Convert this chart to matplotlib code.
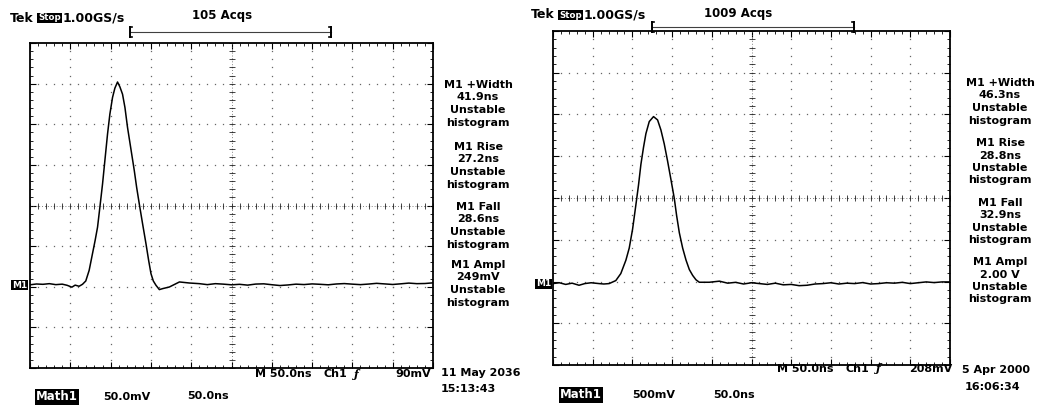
import numpy as np
import matplotlib.pyplot as plt
from matplotlib.lines import Line2D

W, H = 1039, 409

# Math1 trace, left capture (ns, mV above the M1 reference level)
LEFT_T_NS = [0, 8, 16, 24, 32, 40, 46, 52, 56, 60.9, 65.1, 69.2, 73.4, 77.5,
             80.8, 83.8, 86.7, 90.0, 93.3, 96.2, 99.1, 102.4, 105.3, 108.6,
             111.5, 114.8, 117.8, 121.0, 125.2, 129.4, 132.3, 135.6, 139.7,
             143.9, 147.2, 150.1, 153.0, 156.3, 160.5, 164.6, 172.9, 185.4,
             197.8, 210.2, 220, 230, 240, 250, 260, 270, 280, 290, 300, 310,
             320, 330, 340, 350, 360, 370, 380, 390, 400, 410, 420, 430, 440,
             450, 460, 470, 480, 490, 500]
LEFT_MV = [-0.6, 0.4, 0.0, 0.8, -0.4, 0.2, -1.2, -3.5, -1.0, -2.4, 0.0, 4.1,
           17.2, 37.6, 54.0, 70.3, 94.9, 123.5, 156.3, 185.0, 209.5, 230.0,
           241.4, 249.0, 243.1, 234.0, 217.6, 193.1, 166.5, 139.9, 119.4,
           98.9, 74.4, 49.9, 29.4, 13.1, 4.1, -1.2, -6.5, -5.3, -3.3, 2.9,
           1.6, 0.8, -0.4, 0.8, 0.2, -0.6, 0.0, -1.0, 0.3, 0.6, -0.5, -1.5,
           -0.8, 0.2, -0.3, 0.5, 0.0, -0.6, 0.4, 0.9, 0.2, -0.4, 0.3, 1.2,
           0.5, -0.2, 0.6, 1.5, 0.8, 1.0, 1.8]

# Math1 trace, right capture (ns, V above the M1 reference level)
RIGHT_T_NS = [0, 8, 16, 24, 32.8, 40, 48, 58.1, 64, 70.7, 79.1, 85.4, 91.8,
              96.0, 100.2, 104.3, 107.7, 110.7, 114.0, 117.0, 121.2, 126.6,
              131.7, 135.9, 140.1, 144.3, 148.6, 152.8, 155.7, 159.1, 163.3,
              167.5, 171.7, 175.9, 180.1, 184.3, 196.9, 209.6, 220, 230, 240,
              250, 260, 270, 280, 290, 300, 310, 320, 330, 340, 350, 360, 370,
              380, 390, 400, 410, 420, 430, 440, 450, 460, 470, 480, 490, 500]
RIGHT_V = [0.0, 0.01, -0.01, 0.005, -0.02, 0.0, 0.01, 0.0, -0.005, 0.0,
           0.036, 0.12, 0.28, 0.425, 0.65, 0.937, 1.18, 1.427, 1.632, 1.795,
           1.94, 2.00, 1.96, 1.84, 1.673, 1.468, 1.243, 1.018, 0.814, 0.609,
           0.425, 0.282, 0.168, 0.098, 0.045, 0.016, 0.016, 0.029, 0.005,
           0.015, -0.005, 0.01, 0.0, -0.01, 0.005, -0.015, -0.01, -0.025,
           -0.02, -0.005, 0.0, 0.01, -0.005, 0.005, 0.0, 0.012, -0.005, 0.0,
           0.01, 0.005, 0.015, 0.0, 0.01, 0.02, 0.012, 0.02, 0.02]

LEFT_MEAS = [("M1 +Width", "41.9ns"), ("M1 Rise", "27.2ns"),
             ("M1 Fall", "28.6ns"), ("M1 Ampl", "249mV")]
RIGHT_MEAS = [("M1 +Width", "46.3ns"), ("M1 Rise", "28.8ns"),
              ("M1 Fall", "32.9ns"), ("M1 Ampl", "2.00 V")]

FONT = "DejaVu Sans"


def fx(x):
    return x / W


def fy(y):
    return 1 - y / H


fig = plt.figure(figsize=(W / 100, H / 100), dpi=100)
fig.patch.set_facecolor("white")


def label(x, y, s, ha="left", size=8, inverse=False, **kw):
    opts = dict(ha=ha, va="center", fontsize=size, fontweight="bold",
                family=FONT, color="black")
    if inverse:
        opts["color"] = "white"
        opts["bbox"] = dict(boxstyle="square,pad=0.1", fc="black", ec="none")
    opts.update(kw)
    fig.text(fx(x), fy(y), s, **opts)


def draw_screen(box, t, v, per_div, base_div):
    x0, y0, x1, y1 = box
    ax = fig.add_axes([fx(x0), fy(y1), (x1 - x0) / W, (y1 - y0) / H])
    lo = (-4 - base_div) * per_div
    ax.set_xlim(0, 500)
    ax.set_ylim(lo, lo + 8 * per_div)

    xmaj = np.linspace(0, 500, 11)
    xmin = np.linspace(0, 500, 51)
    ymaj = lo + per_div * np.arange(9)
    ymin = lo + per_div * np.arange(41) / 5
    ax.set_xticks(xmaj)
    ax.set_xticks(xmin, minor=True)
    ax.set_yticks(ymaj)
    ax.set_yticks(ymin, minor=True)
    ax.tick_params(which="both", direction="in", top=True, right=True,
                   labelbottom=False, labelleft=False, color="black")
    ax.tick_params(which="major", length=4, width=0.8)
    ax.tick_params(which="minor", length=2.5, width=0.6)
    for sp in ax.spines.values():
        sp.set_linewidth(1.3)

    # graticule dots along every division line
    gx, gy = np.meshgrid(xmaj[1:-1], ymin[1:-1])
    ax.plot(gx.ravel(), gy.ravel(), ls="none", marker="s", ms=0.9,
            mew=0, color="0.4")
    gx, gy = np.meshgrid(xmin[1:-1], ymaj[1:-1])
    ax.plot(gx.ravel(), gy.ravel(), ls="none", marker="s", ms=0.9,
            mew=0, color="0.4")

    # centre crosshair with fine ticks
    cx = 250
    cy = lo + 4 * per_div
    ax.axvline(cx, ls=(0, (1, 2.5)), lw=0.6, color="0.35")
    ax.axhline(cy, ls=(0, (1, 2.5)), lw=0.6, color="0.35")
    ax.plot(np.full(len(ymin), cx), ymin, ls="none", marker="_", ms=4,
            mew=0.6, color="0.15")
    ax.plot(xmin, np.full(len(xmin), cy), ls="none", marker="|", ms=4,
            mew=0.6, color="0.15")

    ax.plot(t, v, color="black", lw=1.1, zorder=5)
    return ax


def bracket(xl, xr, y):
    fig.add_artist(Line2D([fx(xl), fx(xr)], [fy(y), fy(y)], color="0.25",
                          lw=0.8))
    for xe, d in ((xl, 2), (xr, -2)):
        fig.add_artist(Line2D([fx(xe), fx(xe)], [fy(y - 5), fy(y + 5)],
                              color="black", lw=1.4))
        fig.add_artist(Line2D([fx(xe), fx(xe + d)], [fy(y - 5), fy(y - 5)],
                              color="black", lw=1.2))
        fig.add_artist(Line2D([fx(xe), fx(xe + d)], [fy(y + 5), fy(y + 5)],
                              color="black", lw=1.2))


def measurements(cx, tops, items):
    for top, (name, value) in zip(tops, items):
        for i, s in enumerate([name, value, "Unstable", "histogram"]):
            label(cx, top + i * 12.5, s, ha="center")


# left capture
draw_screen((30, 43, 433, 368), LEFT_T_NS, LEFT_MV, 50.0, -1.94)
label(10, 18, "Tek", size=9)
label(38, 18, "Stop", size=6.2, inverse=True)
label(63, 18, "1.00GS/s", size=9)
label(222, 16, "105 Acqs", ha="center", size=8.5)
bracket(130, 331, 32)
measurements(478, [85, 147, 207, 265], LEFT_MEAS)
label(12, 285, "M1", size=6.5, inverse=True)
label(255, 374, "M 50.0ns")
label(323, 374, "Ch1")
label(353, 374, "\u0192", family="DejaVu Serif", fontstyle="italic")
label(431, 374, "90mV", ha="right")
label(441, 373, "11 May 2036")
label(441, 389, "15:13:43")
label(36, 397, "Math1", size=8.5, inverse=True)
label(103, 397, "50.0mV")
label(187, 396, "50.0ns")

# right capture
draw_screen((553, 31, 950, 365), RIGHT_T_NS, RIGHT_V, 0.5, -2.05)
label(531, 15, "Tek", size=9)
label(559, 15, "Stop", size=6.2, inverse=True)
label(584, 15, "1.00GS/s", size=9)
label(738, 13, "1009 Acqs", ha="center", size=8.5)
bracket(652, 854, 27)
measurements(1000, [83, 143, 203, 262], RIGHT_MEAS)
label(536, 284, "M1", size=6.5, inverse=True)
label(777, 369, "M 50.0ns")
label(845, 369, "Ch1")
label(875, 369, "\u0192", family="DejaVu Serif", fontstyle="italic")
label(952, 369, "208mV", ha="right")
label(962, 370, "5 Apr 2000")
label(965, 387, "16:06:34")
label(560, 395, "Math1", size=8.5, inverse=True)
label(632, 395, "500mV")
label(713, 395, "50.0ns")

fig.savefig("out.png", dpi=100, facecolor="white")
